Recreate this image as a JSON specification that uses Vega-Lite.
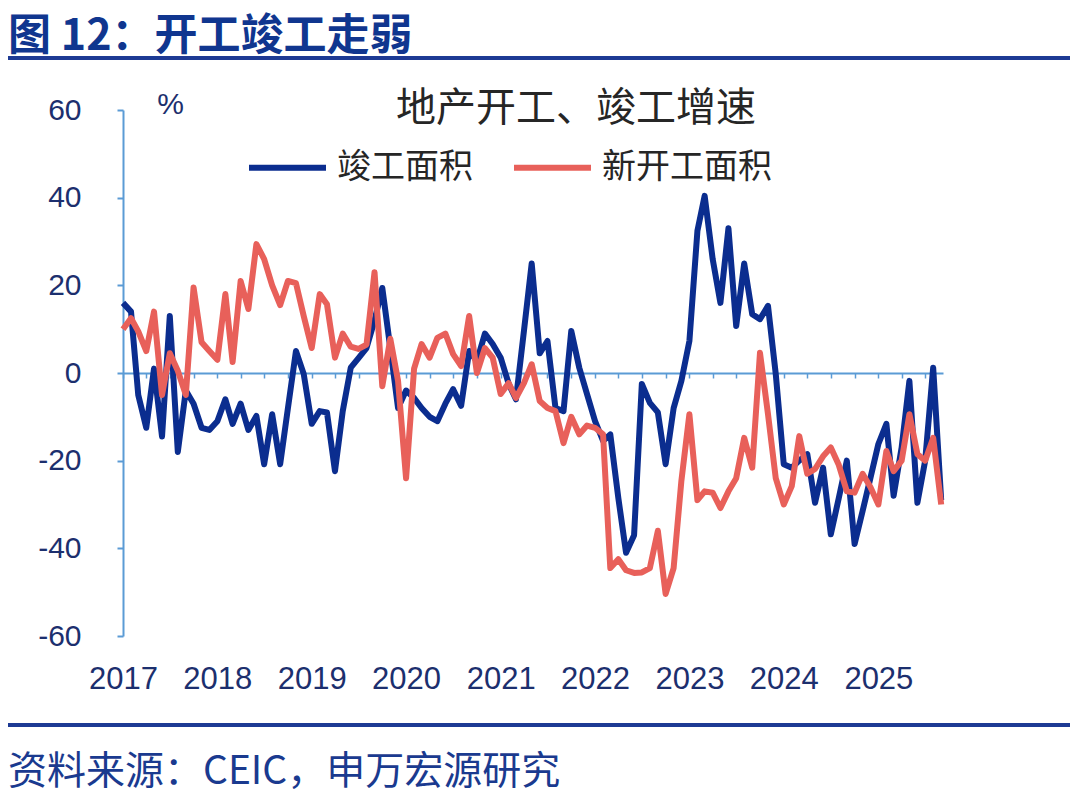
{
  "$schema": "https://vega.github.io/schema/vega-lite/v6.json",
  "background": "white",
  "padding": {"left": 8, "top": 16, "right": 0, "bottom": 0},
  "config": {"view": {"stroke": null}, "font": "Liberation Sans"},
  "datasets": {
    "d": [
      {"date": "2017-01", "竣工面积": 16, "新开工面积": 10},
      {"date": "2017-02", "竣工面积": 14, "新开工面积": 12.5},
      {"date": "2017-03", "竣工面积": -5, "新开工面积": 9.5},
      {"date": "2017-04", "竣工面积": -12.5, "新开工面积": 5},
      {"date": "2017-05", "竣工面积": 1, "新开工面积": 14},
      {"date": "2017-06", "竣工面积": -14.5, "新开工面积": -5},
      {"date": "2017-07", "竣工面积": 13, "新开工面积": 4.5},
      {"date": "2017-08", "竣工面积": -18, "新开工面积": 0.5},
      {"date": "2017-09", "竣工面积": -4, "新开工面积": -5},
      {"date": "2017-10", "竣工面积": -7, "新开工面积": 19.5},
      {"date": "2017-11", "竣工面积": -12.5, "新开工面积": 7},
      {"date": "2017-12", "竣工面积": -13, "新开工面积": 5},
      {"date": "2018-01", "竣工面积": -11, "新开工面积": 3},
      {"date": "2018-02", "竣工面积": -6, "新开工面积": 18},
      {"date": "2018-03", "竣工面积": -11.6, "新开工面积": 2.5},
      {"date": "2018-04", "竣工面积": -7, "新开工面积": 21},
      {"date": "2018-05", "竣工面积": -13, "新开工面积": 14.6},
      {"date": "2018-06", "竣工面积": -9.8, "新开工面积": 29.4},
      {"date": "2018-07", "竣工面积": -20.8, "新开工面积": 26},
      {"date": "2018-08", "竣工面积": -9.4, "新开工面积": 20},
      {"date": "2018-09", "竣工面积": -20.8, "新开工面积": 15.5},
      {"date": "2018-10", "竣工面积": -8, "新开工面积": 21},
      {"date": "2018-11", "竣工面积": 5, "新开工面积": 20.5},
      {"date": "2018-12", "竣工面积": -0.2, "新开工面积": 13},
      {"date": "2019-01", "竣工面积": -11.6, "新开工面积": 5.7},
      {"date": "2019-02", "竣工面积": -8.7, "新开工面积": 18},
      {"date": "2019-03", "竣工面积": -9, "新开工面积": 15.7},
      {"date": "2019-04", "竣工面积": -22.4, "新开工面积": 3.5},
      {"date": "2019-05", "竣工面积": -8.7, "新开工面积": 9},
      {"date": "2019-06", "竣工面积": 1.2, "新开工面积": 6},
      {"date": "2019-07", "竣工面积": 3.4, "新开工面积": 5.5},
      {"date": "2019-08", "竣工面积": 5.7, "新开工面积": 6.5},
      {"date": "2019-09", "竣工面积": 12, "新开工面积": 23},
      {"date": "2019-10", "竣工面积": 19.4, "新开工面积": -3},
      {"date": "2019-11", "竣工面积": 5.7, "新开工面积": 7.8},
      {"date": "2019-12", "竣工面积": -8, "新开工面积": -1.8},
      {"date": "2020-01", "竣工面积": -4, "新开工面积": -24},
      {"date": "2020-02", "竣工面积": -5.7, "新开工面积": 1},
      {"date": "2020-03", "竣工面积": -8, "新开工面积": 6.6},
      {"date": "2020-04", "竣工面积": -10, "新开工面积": 3.5},
      {"date": "2020-05", "竣工面积": -11, "新开工面积": 8},
      {"date": "2020-06", "竣工面积": -7, "新开工面积": 9},
      {"date": "2020-07", "竣工面积": -3.7, "新开工面积": 4.3},
      {"date": "2020-08", "竣工面积": -7.5, "新开工面积": 1.6},
      {"date": "2020-09", "竣工面积": 5, "新开工面积": 13},
      {"date": "2020-10", "竣工面积": 2.7, "新开工面积": 0},
      {"date": "2020-11", "竣工面积": 9, "新开工面积": 5.7},
      {"date": "2020-12", "竣工面积": 6.6, "新开工面积": 3.5},
      {"date": "2021-01", "竣工面积": 3.5, "新开工面积": -4.8},
      {"date": "2021-02", "竣工面积": -2.5, "新开工面积": -2.3},
      {"date": "2021-03", "竣工面积": -6, "新开工面积": -5.7},
      {"date": "2021-04", "竣工面积": 9.6, "新开工面积": -2.3},
      {"date": "2021-05", "竣工面积": 25, "新开工面积": 2},
      {"date": "2021-06", "竣工面积": 4.5, "新开工面积": -6.4},
      {"date": "2021-07", "竣工面积": 7.3, "新开工面积": -8},
      {"date": "2021-08", "竣工面积": -8, "新开工面积": -8.7},
      {"date": "2021-09", "竣工面积": -8.7, "新开工面积": -16},
      {"date": "2021-10", "竣工面积": 9.6, "新开工面积": -10},
      {"date": "2021-11", "竣工面积": 1.2, "新开工面积": -14},
      {"date": "2021-12", "竣工面积": -4.8, "新开工面积": -12},
      {"date": "2022-01", "竣工面积": -11, "新开工面积": -12.5},
      {"date": "2022-02", "竣工面积": -15.5, "新开工面积": -14},
      {"date": "2022-03", "竣工面积": -14, "新开工面积": -44.5},
      {"date": "2022-04", "竣工面积": -28.5, "新开工面积": -42.5},
      {"date": "2022-05", "竣工面积": -41, "新开工面积": -45},
      {"date": "2022-06", "竣工面积": -37, "新开工面积": -45.6},
      {"date": "2022-07", "竣工面积": -2.5, "新开工面积": -45.5},
      {"date": "2022-08", "竣工面积": -6.8, "新开工面积": -44.5},
      {"date": "2022-09", "竣工面积": -9, "新开工面积": -36},
      {"date": "2022-10", "竣工面积": -20.8, "新开工面积": -50.4},
      {"date": "2022-11", "竣工面积": -8, "新开工面积": -44.5},
      {"date": "2022-12", "竣工面积": -1.8, "新开工面积": -24.6},
      {"date": "2023-01", "竣工面积": 7.3, "新开工面积": -9.4},
      {"date": "2023-02", "竣工面积": 32.4, "新开工面积": -29},
      {"date": "2023-03", "竣工面积": 40.4, "新开工面积": -27},
      {"date": "2023-04", "竣工面积": 26, "新开工面积": -27.3},
      {"date": "2023-05", "竣工面积": 16, "新开工面积": -30.8},
      {"date": "2023-06", "竣工面积": 33, "新开工面积": -27},
      {"date": "2023-07", "竣工面积": 10.7, "新开工面积": -24},
      {"date": "2023-08", "竣工面积": 25, "新开工面积": -14.8},
      {"date": "2023-09", "竣工面积": 13.4, "新开工面积": -21.6},
      {"date": "2023-10", "竣工面积": 12.3, "新开工面积": 4.6},
      {"date": "2023-11", "竣工面积": 15.3, "新开工面积": -9.4},
      {"date": "2023-12", "竣工面积": -0.2, "新开工面积": -24},
      {"date": "2024-01", "竣工面积": -20.8, "新开工面积": -30},
      {"date": "2024-02", "竣工面积": -21.6, "新开工面积": -25.8},
      {"date": "2024-03", "竣工面积": -20, "新开工面积": -14.4},
      {"date": "2024-04", "竣工面积": -18.5, "新开工面积": -23},
      {"date": "2024-05", "竣工面积": -29.6, "新开工面积": -21.9},
      {"date": "2024-06", "竣工面积": -21.6, "新开工面积": -19},
      {"date": "2024-07", "竣工面积": -36.8, "新开工面积": -17},
      {"date": "2024-08", "竣工面积": -28.5, "新开工面积": -21},
      {"date": "2024-09", "竣工面积": -20, "新开工面积": -27},
      {"date": "2024-10", "竣工面积": -39, "新开工面积": -27.3},
      {"date": "2024-11", "竣工面积": -31.5, "新开工面积": -23},
      {"date": "2024-12", "竣工面积": -24, "新开工面积": -26},
      {"date": "2025-01", "竣工面积": -16.2, "新开工面积": -30},
      {"date": "2025-02", "竣工面积": -11.6, "新开工面积": -17.8},
      {"date": "2025-03", "竣工面积": -28, "新开工面积": -22.4},
      {"date": "2025-04", "竣工面积": -17, "新开工面积": -20},
      {"date": "2025-05", "竣工面积": -1.8, "新开工面积": -9.4},
      {"date": "2025-06", "竣工面积": -29.6, "新开工面积": -18.5},
      {"date": "2025-07", "竣工面积": -20, "新开工面积": -20},
      {"date": "2025-08", "竣工面积": 1.2, "新开工面积": -14.8},
      {"date": "2025-09", "竣工面积": -29, "新开工面积": -30}
    ]
  },
  "concat": [
    {
      "title": {"text": "图 12：开工竣工走弱", "anchor": "start", "frame": "group", "font": "Noto Sans CJK SC", "fontSize": 43, "fontWeight": "bold", "color": "#10368f", "offset": 10, "dy": 48, "baseline": "alphabetic"},
      "width": 1062,
      "height": 4,
      "view": {"fill": "#1d3a94", "stroke": null},
      "data": {"values": [{}]},
      "mark": {"type": "point", "opacity": 0},
      "encoding": {}
    },
    {
      "hconcat": [
        {
          "width": 29,
          "height": 1,
          "view": {"stroke": null},
          "data": {"values": [{}]},
          "mark": {"type": "point", "opacity": 0},
          "encoding": {}
        },
        {
          "width": 820,
          "height": 526,
          "title": {"text": "地产开工、竣工增速", "font": "Noto Sans CJK SC", "fontSize": 40, "fontWeight": "normal", "color": "#262626", "anchor": "middle", "frame": "group", "offset": 0, "dx": 43, "dy": 72, "baseline": "alphabetic"},
          "data": {"name": "d"},
          "transform": [{"fold": ["竣工面积", "新开工面积"], "as": ["series", "value"]}],
          "encoding": {
            "y": {
              "field": "value",
              "type": "quantitative",
              "scale": {"domain": [-60, 60], "nice": false, "zero": false},
              "axis": {
                "values": [-60, -40, -20, 0, 20, 40, 60],
                "grid": false,
                "domainColor": "#5b9bd5",
                "domainWidth": 2,
                "tickColor": "#5b9bd5",
                "tickWidth": 2,
                "tickSize": 6,
                "labelPadding": 36,
                "labelFont": "Liberation Sans",
                "labelFontSize": 30,
                "labelColor": "#1c2f6e",
                "labelExpr": "datum.value < 0 ? '-' + abs(datum.value) : '' + datum.value",
                "title": "%",
                "titleAngle": 0,
                "titleX": 47,
                "titleY": 3,
                "titleAlign": "center",
                "titleBaseline": "alphabetic",
                "titleFont": "Liberation Sans",
                "titleFontSize": 30,
                "titleFontWeight": "normal",
                "titleColor": "#1c2f6e"
              }
            },
            "color": {
              "field": "series",
              "type": "nominal",
              "scale": {"domain": ["竣工面积", "新开工面积"], "range": ["#0b2d8f", "#e8605a"]},
              "legend": {
                "orient": "none",
                "legendX": 123,
                "legendY": 16,
                "direction": "horizontal",
                "title": null,
                "symbolType": "stroke",
                "symbolSize": 5929,
                "symbolStrokeWidth": 6,
                "labelFont": "Noto Sans CJK SC",
                "labelFontSize": 34,
                "labelColor": "#262626",
                "labelOffset": 8,
                "columnPadding": 29,
                "padding": 0,
                "labelLimit": 400
              }
            }
          },
          "layer": [
            {
              "transform": [{"filter": "datum.series === '竣工面积'"}],
              "mark": {"type": "line", "strokeWidth": 6, "strokeJoin": "round"},
              "encoding": {
                "x": {
                  "field": "date",
                  "type": "temporal",
                  "scale": {"type": "utc", "domain": [{"year": 2017, "month": 1, "date": 1, "utc": true}, {"year": 2025, "month": 9, "date": 8, "utc": true}]},
                  "axis": {
                    "orient": "bottom",
                    "domain": false,
                    "ticks": false,
                    "grid": false,
                    "title": null,
                    "format": "%Y",
                    "tickCount": {"interval": "year", "step": 1},
                    "labelPadding": 28,
                    "labelFont": "Liberation Sans",
                    "labelFontSize": 31,
                    "labelColor": "#1c2f6e",
                    "labelFlush": false,
                    "labelOverlap": false
                  }
                }
              }
            },
            {
              "transform": [{"filter": "datum.series === '新开工面积'"}],
              "mark": {"type": "line", "strokeWidth": 6, "strokeJoin": "round"},
              "encoding": {
                "x": {
                  "field": "date",
                  "type": "temporal",
                  "scale": {"type": "utc", "domain": [{"year": 2017, "month": 1, "date": 1, "utc": true}, {"year": 2025, "month": 9, "date": 8, "utc": true}]},
                  "axis": {
                    "orient": "bottom",
                    "offset": -263,
                    "labels": false,
                    "domain": true,
                    "domainColor": "#5b9bd5",
                    "domainWidth": 2,
                    "ticks": true,
                    "tickColor": "#5b9bd5",
                    "tickWidth": 1.5,
                    "tickSize": 5,
                    "tickCount": {"interval": "month", "step": 3},
                    "grid": false,
                    "title": null
                  }
                }
              }
            }
          ],
          "resolve": {"axis": {"x": "independent"}}
        }
      ],
      "spacing": 0,
      "resolve": {"scale": {"color": "independent"}}
    },
    {
      "title": {"text": "资料来源：CEIC，申万宏源研究", "orient": "bottom", "anchor": "start", "frame": "group", "font": "Noto Sans CJK SC", "fontSize": 39, "fontWeight": "normal", "color": "#1a3a8f", "offset": 56, "baseline": "alphabetic"},
      "width": 1062,
      "height": 4,
      "view": {"fill": "#1d3a94", "stroke": null},
      "data": {"values": [{}]},
      "mark": {"type": "point", "opacity": 0},
      "encoding": {}
    }
  ],
  "columns": 1,
  "spacing": 28,
  "align": "none",
  "resolve": {"scale": {"color": "independent"}}
}
